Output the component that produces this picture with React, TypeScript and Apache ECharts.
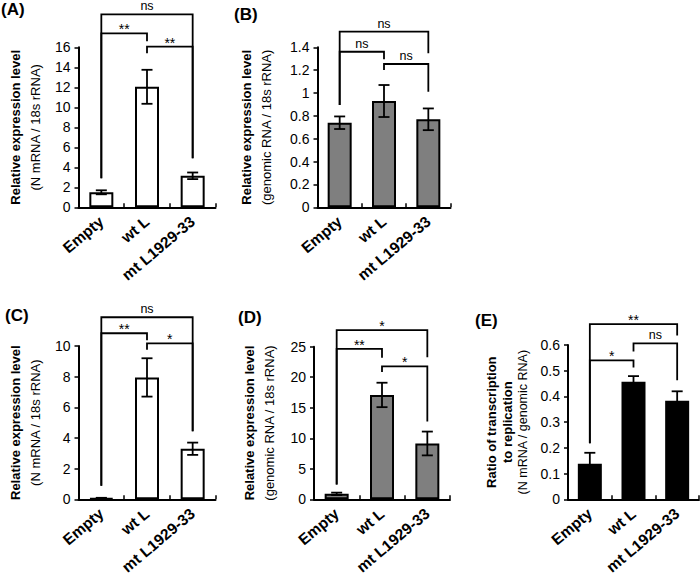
import React, { useEffect, useRef } from 'react';
import * as echarts from 'echarts';

const FONT = "'Liberation Sans', Arial, Helvetica, sans-serif";

const categories = ['Empty', 'wt L', 'mt L1929-33'];

// Panel A: N mRNA / 18s rRNA
const meanA = [1.5, 12.05, 3.15];
const errA = [0.2, 1.7, 0.33];
// Panel B: genomic RNA / 18s rRNA
const meanB = [0.74, 0.93, 0.77];
const errB = [0.055, 0.14, 0.095];
// Panel C: N mRNA / 18s rRNA
const meanC = [0.08, 7.95, 3.3];
const errC = [0.02, 1.25, 0.4];
// Panel D: genomic RNA / 18s rRNA
const meanD = [0.9, 17.1, 9.15];
const errD = [0.2, 2.0, 1.95];
// Panel E: ratio
const meanE = [0.138, 0.457, 0.383];
const errE = [0.043, 0.022, 0.037];

// significance brackets: [fromCat, toCat, top, legFromBottom, legToBottom]
const bracketsA = [[0, 2, 19.3, 2.9, 4.9], [0, 1, 17.4, 2.9, 16.6], [1, 2, 16.06, 15.4, 4.9]];
const marksA = ['ns', '**', '**'];
const bracketsB = [[0, 2, 1.537, 0.895, 1.347], [0, 1, 1.361, 0.895, 1.295], [1, 2, 1.254, 1.201, 1.011]];
const marksB = ['ns', 'ns', 'ns'];
const bracketsC = [[0, 2, 11.875, 0.89, 4.44], [0, 1, 10.83, 0.89, 10.375], [1, 2, 10.17, 9.75, 4.44]];
const marksC = ['ns', '**', '*'];
const bracketsD = [[0, 2, 27.72, 2.45, 23.28], [0, 1, 24.64, 2.45, 23.19], [1, 2, 21.78, 20.84, 12.77]];
const marksD = ['*', '**', '*'];
const bracketsE = [[0, 2, 0.681, 0.218, 0.637], [0, 1, 0.54, 0.218, 0.513], [1, 2, 0.606, 0.575, 0.463]];
const marksE = ['**', '*', 'ns'];

const yMax = [16, 1.4, 10, 25, 0.6];
const yInterval = [2, 0.2, 2, 5, 0.1];

const titlesBold = [
  ['Relative expression level'],
  ['Relative expression level'],
  ['Relative expression level'],
  ['Relative expression level'],
  ['Ratio of transcription', 'to replication'],
];
const titlesNormal = [
  '(N mRNA / 18s rRNA)',
  '(genomic RNA / 18s rRNA)',
  '(N mRNA / 18s rRNA)',
  '(genomic RNA / 18s rRNA)',
  '(N mRNA / genomic RNA)',
];
const panelLabels = ['(A)', '(B)', '(C)', '(D)', '(E)'];

// layout (pixels)
const grids = [
  { left: 78.5, top: 47.3, width: 137, height: 160 },
  { left: 317.5, top: 47.3, width: 133, height: 160 },
  { left: 78.5, top: 346, width: 137, height: 160 },
  { left: 314, top: 346.7, width: 136, height: 160 },
  { left: 568, top: 345, width: 131, height: 160.7 },
];
const nameGaps = [33, 41, 33, 35, 37];
const nameLineHeights = [20, 20, 20, 20, 16];
const normalSizes = [13, 13, 13, 13, 12.5];
const fills = ['#ffffff', '#7f7f7f', '#ffffff', '#7f7f7f', '#000000'];
const labelPos = [[1, 9], [234, 14], [5, 315], [238, 317], [475, 320]];

const means = [meanA, meanB, meanC, meanD, meanE];
const errs = [errA, errB, errC, errD, errE];
const brackets = [bracketsA, bracketsB, bracketsC, bracketsD, bracketsE];
const marks = [marksA, marksB, marksC, marksD, marksE];

export default function App() {
  const ref = useRef<HTMLDivElement>(null);
  useEffect(() => {
    if (!ref.current) return;
    const chart = echarts.init(ref.current, undefined, { renderer: 'svg' });

    const xAxis: any[] = [];
    const yAxis: any[] = [];
    const series: any[] = [];

    for (let i = 0; i < 5; i++) {
      xAxis.push({
        type: 'category',
        gridIndex: i,
        data: categories,
        axisLine: { show: true, lineStyle: { color: '#000', width: 2 } },
        axisTick: { show: true, inside: true, length: 4, lineStyle: { color: '#000', width: 1.5 } },
        axisLabel: {
          rotate: 40, interval: 0, color: '#000', fontWeight: 'bold', fontSize: 15.5,
          fontFamily: FONT, margin: 12,
        },
        splitLine: { show: false },
      });
      const boldPart = titlesBold[i].map((t) => `{b|${t}}`).join('\n');
      const lh = nameLineHeights[i];
      yAxis.push({
        type: 'value',
        gridIndex: i,
        min: 0,
        max: yMax[i],
        interval: yInterval[i],
        axisLine: { show: true, lineStyle: { color: '#000', width: 2 } },
        axisTick: { show: true, length: 4, lineStyle: { color: '#000', width: 1.5 } },
        splitLine: { show: false },
        axisLabel: { color: '#000', fontSize: 14, fontFamily: FONT, margin: 8 },
        name: `${boldPart}\n{n|${titlesNormal[i]}}`,
        nameLocation: 'middle',
        nameRotate: 90,
        nameGap: nameGaps[i],
        nameTextStyle: {
          color: '#000',
          fontFamily: FONT,
          rich: {
            b: { fontWeight: 'bold', fontSize: 13, lineHeight: lh, fontFamily: FONT, color: '#000' },
            n: { fontWeight: 'normal', fontSize: normalSizes[i], lineHeight: lh, fontFamily: FONT, color: '#000' },
          },
        },
      });

      series.push({
        type: 'bar',
        xAxisIndex: i,
        yAxisIndex: i,
        data: means[i],
        barWidth: 24,
        itemStyle: { color: fills[i], borderColor: '#000', borderWidth: 2 },
        z: 2,
      });

      series.push({
        type: 'custom',
        xAxisIndex: i,
        yAxisIndex: i,
        z: 3,
        clip: false,
        data: means[i].map((m, j) => [j, m - errs[i][j], m + errs[i][j]]),
        renderItem: (params: any, api: any) => {
          const x = api.value(0);
          const lo = api.coord([x, api.value(1)]);
          const hi = api.coord([x, api.value(2)]);
          const w = 5.5;
          const st = { stroke: '#000', lineWidth: 1.8 };
          return {
            type: 'group',
            children: [
              { type: 'line', shape: { x1: lo[0], y1: lo[1], x2: hi[0], y2: hi[1] }, style: st },
              { type: 'line', shape: { x1: hi[0] - w, y1: hi[1], x2: hi[0] + w, y2: hi[1] }, style: st },
              { type: 'line', shape: { x1: lo[0] - w, y1: lo[1], x2: lo[0] + w, y2: lo[1] }, style: st },
            ],
          };
        },
      });

      const mk = marks[i];
      series.push({
        type: 'custom',
        xAxisIndex: i,
        yAxisIndex: i,
        z: 4,
        clip: false,
        data: brackets[i],
        renderItem: (params: any, api: any) => {
          const from = api.value(0);
          const to = api.value(1);
          const top = api.value(2);
          const a = api.coord([from, api.value(3)]);
          const b = api.coord([from, top]);
          const c = api.coord([to, top]);
          const d = api.coord([to, api.value(4)]);
          const label = mk[params.dataIndex];
          const isStar = label.indexOf('*') >= 0;
          return {
            type: 'group',
            children: [
              {
                type: 'polyline',
                shape: { points: [a, b, c, d] },
                style: { stroke: '#000', lineWidth: 1.8, fill: 'none' },
              },
              {
                type: 'text',
                x: (b[0] + c[0]) / 2,
                y: b[1] - (isStar ? 4 : 8),
                style: {
                  text: label,
                  fill: '#000',
                  fontSize: isStar ? 14 : 12.5,
                  fontFamily: FONT,
                  align: 'center',
                  verticalAlign: 'middle',
                },
              },
            ],
          };
        },
      });
    }

    chart.setOption({
      animation: false,
      backgroundColor: '#ffffff',
      grid: grids.map((g) => ({ ...g, containLabel: false })),
      xAxis,
      yAxis,
      series,
      graphic: panelLabels.map((t, i) => ({
        type: 'text',
        x: labelPos[i][0],
        y: labelPos[i][1],
        style: {
          text: t,
          fill: '#000',
          fontSize: 17,
          fontWeight: 'bold',
          fontFamily: FONT,
          align: 'left',
          verticalAlign: 'middle',
        },
      })),
    });

    return () => chart.dispose();
  }, []);

  return (
    <div
      ref={ref}
      style={{ position: 'fixed', left: 0, top: 0, width: 700, height: 577, background: '#fff' }}
    />
  );
}
